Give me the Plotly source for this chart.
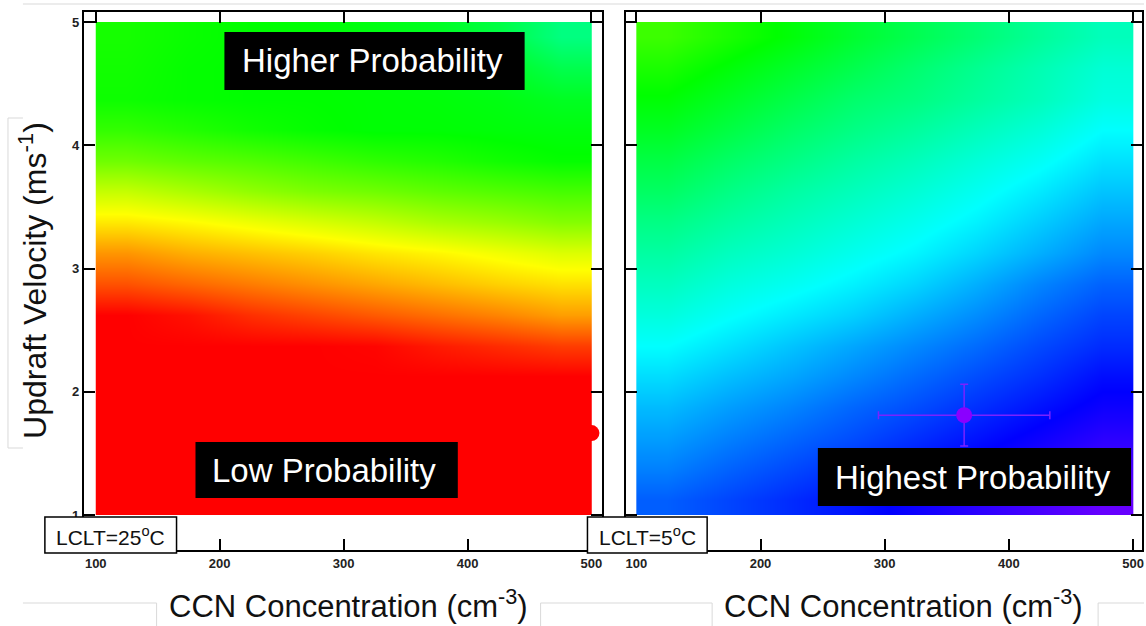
import plotly.graph_objects as go

W, H = 1146, 626

# ---- data ----
ccn_centers = [125, 175, 225, 275, 325, 375, 425, 475]
w_centers = [1.125, 1.375, 1.625, 1.875, 2.125, 2.375, 2.625, 2.875,
             3.125, 3.375, 3.625, 3.875, 4.125, 4.375, 4.625, 4.875]
x_ticks = [100, 200, 300, 400, 500]
y_ticks = [1, 2, 3, 4, 5]

# probability index (0 = lowest ... 270 = highest), rows bottom -> top
prob_left = [
    [0, 0, 0, 0, 0, 0, 0, 0],
    [0, 0, 0, 0, 0, 0, 0, 0],
    [0, 0, 0, 0, 0, 0, 0, 0],
    [0, 0, 0, 0, 0, 0, 0, 0],
    [0, 0, 0, 0, 0, 0, 0, 0],
    [0, 0, 0, 0, 1, 6, 10, 14],
    [0, 4, 11, 16, 21, 26, 31, 37],
    [19, 24, 29, 34, 39, 44, 49, 53],
    [35, 41, 45, 49, 54, 58, 63, 68],
    [55, 59, 64, 69, 74, 80, 84, 89],
    [74, 80, 86, 91, 94, 98, 101, 104],
    [94, 98, 101, 105, 109, 112, 116, 119],
    [108, 112, 116, 119, 121, 121, 122, 123],
    [117, 119, 120, 120, 121, 122, 124, 128],
    [116, 119, 120, 120, 122, 124, 128, 138],
    [115, 118, 120, 121, 124, 128, 136, 150],
]
prob_right = [
    [218, 224, 230, 236, 243, 250, 257, 264],
    [210, 217, 223, 229, 236, 243, 250, 257],
    [203, 210, 216, 222, 229, 236, 243, 250],
    [196, 203, 209, 216, 222, 229, 236, 243],
    [188, 195, 201, 208, 215, 222, 229, 237],
    [180, 187, 194, 201, 208, 215, 223, 230],
    [172, 179, 185, 191, 199, 207, 216, 224],
    [165, 172, 177, 183, 190, 199, 209, 217],
    [158, 165, 170, 176, 182, 190, 199, 208],
    [151, 158, 164, 170, 176, 183, 192, 201],
    [143, 151, 158, 164, 170, 177, 185, 194],
    [136, 144, 151, 158, 164, 171, 178, 187],
    [128, 136, 144, 151, 157, 164, 171, 180],
    [121, 129, 137, 145, 150, 157, 164, 173],
    [114, 122, 130, 138, 146, 154, 162, 170],
    [106, 114, 122, 131, 139, 147, 156, 164],
]
obs_left = dict(ccn=[500], w=[1.665])
obs_right = dict(ccn=[364], w=[1.81], ccn_err=[69], w_err=[0.25])

titles = dict(y="Updraft Velocity (ms<sup>-1</sup>)", x="CCN Concentration (cm<sup>-3</sup>)")
labels = ["LCLT=25<sup>o</sup>C", "LCLT=5<sup>o</sup>C"]
box_texts = ["Higher Probability", "Low Probability", "Highest Probability"]

# ---- style ----
colors = ["#ff0000", "#ff8000", "#ffff00", "#80ff00", "#00ff00",
          "#00ff80", "#00ffff", "#0080ff", "#0000ff", "#8000ff"]
cscale = [[i / (len(colors) - 1), c] for i, c in enumerate(colors)]
FONT = "Liberation Sans, Arial, sans-serif"

fig = go.Figure()
fig.add_trace(go.Heatmap(x=ccn_centers, y=w_centers, z=prob_left, colorscale=cscale,
                         zmin=0, zmax=270, zsmooth="best", showscale=False,
                         xaxis="x", yaxis="y", hoverinfo="skip"))
fig.add_trace(go.Heatmap(x=ccn_centers, y=w_centers, z=prob_right, colorscale=cscale,
                         zmin=0, zmax=270, zsmooth="best", showscale=False,
                         xaxis="x2", yaxis="y2", hoverinfo="skip"))
fig.add_trace(go.Scatter(x=obs_left["ccn"], y=obs_left["w"], mode="markers",
                         marker=dict(color="#ff0000", size=16), xaxis="x", yaxis="y",
                         showlegend=False))
fig.add_trace(go.Scatter(x=obs_right["ccn"], y=obs_right["w"], mode="markers",
                         marker=dict(color="#8a00ff", size=16),
                         error_x=dict(type="data", array=obs_right["ccn_err"], color="#7a22ff",
                                      thickness=1.5, width=4),
                         error_y=dict(type="data", array=obs_right["w_err"], color="#7a22ff",
                                      thickness=1.5, width=4),
                         xaxis="x2", yaxis="y2", showlegend=False))

def px(x):
    return x / W

def py(y):
    return 1 - y / H

ydom = [py(550), py(12)]
yrange = [1 - 35 / 123.25, 5 + 10 / 123.25]
axis_common = dict(showline=True, linecolor="black", linewidth=2, mirror="ticks",
                   ticks="inside", ticklen=11, tickwidth=2, tickcolor="black",
                   showgrid=False, zeroline=False)
tickfont = dict(family="Liberation Sans Narrow, Liberation Sans, Arial", size=13,
                color="#222222", weight="bold")

fig.update_layout(
    width=W, height=H, margin=dict(l=0, r=0, t=0, b=0),
    paper_bgcolor="white", plot_bgcolor="white", showlegend=False,
    xaxis=dict(domain=[px(83), px(603)], range=[100 - 12 / 1.2425, 500 + 11 / 1.2425],
               tickvals=x_ticks, tickfont=tickfont, anchor="y", **axis_common),
    yaxis=dict(domain=ydom, range=yrange, tickvals=y_ticks, tickfont=tickfont,
               anchor="x", **axis_common),
    xaxis2=dict(domain=[px(627), px(1144)], range=[100 - 10 / 1.245, 500 + 9 / 1.245],
                tickvals=x_ticks, tickfont=tickfont, anchor="y2", **axis_common),
    yaxis2=dict(domain=ydom, range=yrange, tickvals=y_ticks, showticklabels=False,
                anchor="x2", **axis_common),
)

shapes = []
# faint slide frame lines
faint = dict(color="#d9d9d9", width=1)
for (x0, y0, x1, y1) in [(22, 4, 1146, 4), (7, 118, 7, 448), (7, 118, 22, 118),
                         (7, 448, 22, 448), (22, 603, 156, 603), (156, 603, 156, 626),
                         (541, 603, 713, 603), (541, 603, 541, 626), (713, 603, 713, 626),
                         (1100, 603, 1146, 603), (1100, 603, 1100, 626)]:
    shapes.append(dict(type="line", xref="paper", yref="paper", x0=px(x0), y0=py(y0),
                       x1=px(x1), y1=py(y1), line=faint, layer="below"))
# black label boxes
for (x0, y0, x1, y1) in [(224, 32, 525, 90), (195, 442, 458, 498), (819, 448, 1133, 506)]:
    shapes.append(dict(type="rect", xref="paper", yref="paper", x0=px(x0), y0=py(y1),
                       x1=px(x1), y1=py(y0), fillcolor="black", line=dict(width=0),
                       layer="above"))
# LCLT boxes
for (x0, y0, x1, y1) in [(44, 517, 176, 553), (588, 517, 708, 553)]:
    shapes.append(dict(type="rect", xref="paper", yref="paper", x0=px(x0), y0=py(y1),
                       x1=px(x1), y1=py(y0), fillcolor="white",
                       line=dict(color="black", width=1.5), layer="above"))
fig.update_layout(shapes=shapes)

ann = []
ann.append(dict(text=titles["y"], x=px(32), y=py(280), xref="paper", yref="paper",
                textangle=-90, showarrow=False, xanchor="center", yanchor="middle",
                font=dict(family=FONT, size=32, color="#111111")))
for cx in [348, 905]:
    ann.append(dict(text=titles["x"], x=px(cx), y=py(604), xref="paper", yref="paper",
                    showarrow=False, xanchor="center", yanchor="middle",
                    font=dict(family=FONT, size=31, color="#111111")))
for t, (cx, cy) in zip(labels, [(110, 536), (648, 536)]):
    ann.append(dict(text=t, x=px(cx), y=py(cy), xref="paper", yref="paper",
                    showarrow=False, xanchor="center", yanchor="middle",
                    font=dict(family=FONT, size=21, color="#111111")))
for t, (cx, cy) in zip(box_texts, [(372, 61), (324, 470), (975, 477)]):
    ann.append(dict(text=t, x=px(cx), y=py(cy), xref="paper", yref="paper",
                    showarrow=False, xanchor="center", yanchor="middle",
                    font=dict(family=FONT, size=33, color="white")))
fig.update_layout(annotations=ann)

fig.write_html("out.html", config={"displayModeBar": False},
               post_script="document.body.style.margin='0';")
